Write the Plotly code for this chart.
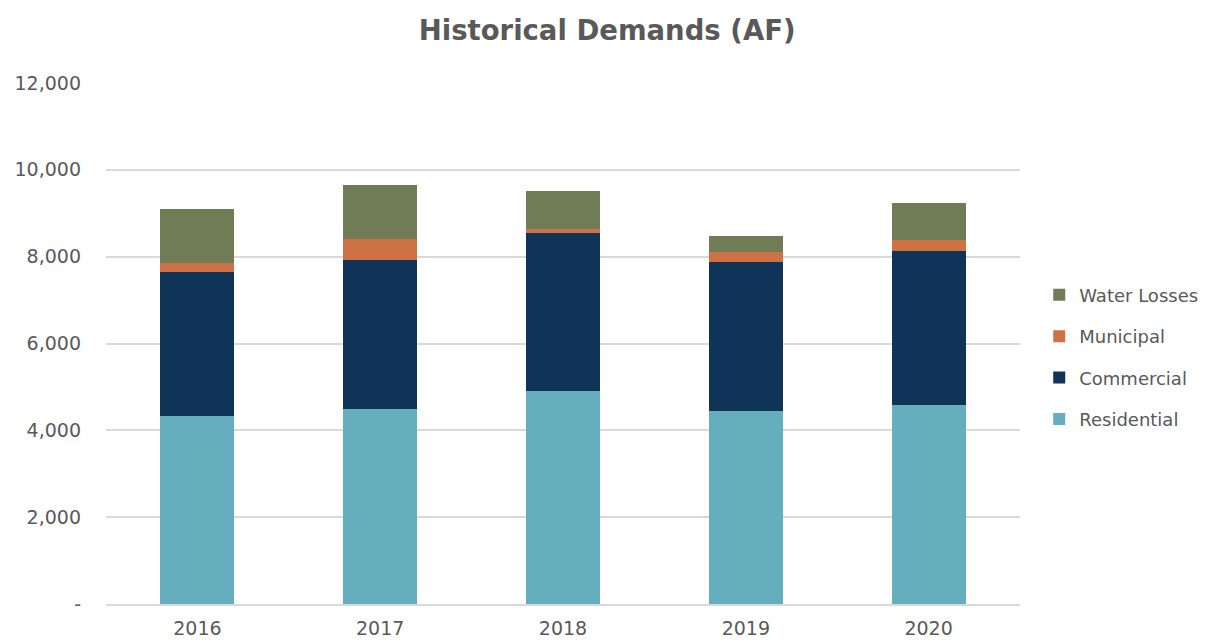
import plotly.graph_objects as go

years = ["2016", "2017", "2018", "2019", "2020"]
residential = [4324, 4490, 4916, 4447, 4578]
commercial = [3331, 3440, 3623, 3423, 3554]
municipal = [200, 477, 92, 239, 254]
water_losses = [1247, 1255, 877, 377, 854]

series = [
    ("Residential", residential, "#65AEBD", 4),
    ("Commercial", commercial, "#0F3457", 3),
    ("Municipal", municipal, "#CE7246", 2),
    ("Water Losses", water_losses, "#6F7C55", 1),
]

font_family = "DejaVu Sans, sans-serif"
gray = "#595959"

fig = go.Figure()
for name, vals, color, rank in series:
    fig.add_trace(go.Bar(
        x=years, y=vals, name=name, legendgroup=name, legendrank=rank,
        marker=dict(color=color, line=dict(width=0)),
        width=0.405,
    ))

fig.update_layout(
    barmode="stack",
    width=1207, height=640,
    paper_bgcolor="white", plot_bgcolor="white",
    margin=dict(l=106, r=187, t=83, b=36, autoexpand=False),
    font=dict(family=font_family, color=gray, size=19),
    title=dict(text="<b>Historical Demands (AF)</b>", x=0.503, xanchor="center",
               y=0.953, yanchor="middle",
               font=dict(size=27.5, color=gray, family=font_family)),
    legend=dict(traceorder="grouped", tracegroupgap=15,
                xref="container", yref="container",
                x=0.861, xanchor="left", y=0.442, yanchor="middle",
                font=dict(size=18, color=gray), itemwidth=30),
    bargap=0.595,
)
fig.update_yaxes(
    range=[0, 12000],
    tickvals=[0, 2000, 4000, 6000, 8000, 10000, 12000],
    ticktext=["-", "2,000", "4,000", "6,000", "8,000", "10,000", "12,000"],
    showgrid=True, gridcolor="#D9D9D9", gridwidth=2,
    zeroline=False, showline=False, ticklabelstandoff=24, automargin=False,
)
fig.update_xaxes(showgrid=False, showline=True, linecolor="#D9D9D9", linewidth=2,
                 ticklabelstandoff=6, automargin=False)

fig.write_html("out.html")
